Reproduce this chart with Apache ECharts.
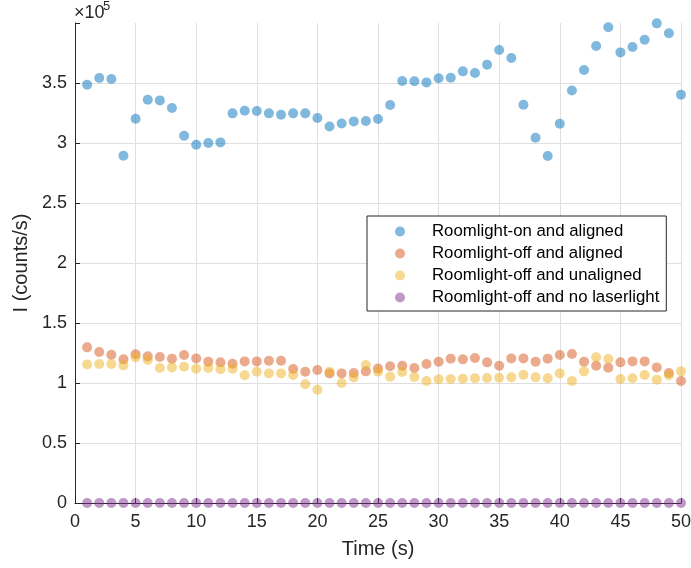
<!DOCTYPE html>
<html>
<head>
<meta charset="utf-8">
<title>Photodiode intensity over time</title>
<script src="https://cdn.jsdelivr.net/npm/echarts@6/dist/echarts.min.js"></script>
<style>
  html, body { margin: 0; padding: 0; background: #ffffff; }
  #chart { width: 691px; height: 568px; }
</style>
</head>
<body>
<div id="chart"></div>
<script>
// Sample times (s)
const time = [1, 2, 3, 4, 5, 6, 7, 8, 9, 10,
              11, 12, 13, 14, 15, 16, 17, 18, 19, 20,
              21, 22, 23, 24, 25, 26, 27, 28, 29, 30,
              31, 32, 33, 34, 35, 36, 37, 38, 39, 40,
              41, 42, 43, 44, 45, 46, 47, 48, 49, 50];

// Measured intensity (counts/s) for each condition
const roomOnAligned = [348600, 354200, 353300, 289400, 320200, 336100, 335500, 329200, 306100, 298600,
                       300000, 300500, 324700, 326900, 326700, 324700, 323600, 324700, 324700, 320800,
                       313800, 316300, 318000, 318300, 320000, 331700, 351700, 351400, 350500, 353900,
                       354400, 359700, 358300, 365300, 377500, 370800, 331900, 304400, 289200, 316100,
                       343800, 360800, 380800, 396400, 375500, 380000, 386100, 399700, 391400, 340300];

const roomOffAligned = [129700, 125800, 123600, 119700, 123900, 122200, 121700, 120300, 123300, 120500,
                        117800, 117200, 116100, 118000, 118000, 118600, 118600, 111700, 109400, 110800,
                        108000, 108000, 108300, 109700, 112000, 113900, 114400, 112500, 115800, 117800,
                        120300, 119700, 120800, 117200, 114400, 120500, 120500, 117800, 120300, 123300,
                        124200, 117800, 114400, 112800, 117200, 118000, 118000, 113000, 108300, 101700];

const roomOffUnaligned = [115500, 115800, 115800, 114700, 121400, 119200, 112500, 113000, 113600, 111900,
                          112500, 111400, 111900, 106400, 109400, 108000, 108000, 106700, 98900, 94400,
                          109400, 100000, 104700, 115000, 109500, 105300, 109200, 105000, 101700, 103100,
                          103300, 103600, 103900, 104200, 104400, 104700, 106900, 104700, 103900, 108000,
                          101700, 109700, 121400, 120000, 103300, 103900, 106700, 102800, 106400, 109700];

const roomOffNoLaser = [0, 0, 0, 0, 0, 0, 0, 0, 0, 0,
                        0, 0, 0, 0, 0, 0, 0, 0, 0, 0,
                        0, 0, 0, 0, 0, 0, 0, 0, 0, 0,
                        0, 0, 0, 0, 0, 0, 0, 0, 0, 0,
                        0, 0, 0, 0, 0, 0, 0, 0, 0, 0];

const seriesNames = [
  'Roomlight-on and aligned',
  'Roomlight-off and aligned',
  'Roomlight-off and unaligned',
  'Roomlight-off and no laserlight'
];

const xTicks = [0, 5, 10, 15, 20, 25, 30, 35, 40, 45, 50];
const yTicks = [0, 0.5, 1, 1.5, 2, 2.5, 3, 3.5];
const yScale = 1e5;

const seriesValues = [roomOnAligned, roomOffAligned, roomOffUnaligned, roomOffNoLaser];
const seriesColors = [
  'rgba(0,114,189,0.62)',
  'rgba(217,83,25,0.62)',
  'rgba(237,177,32,0.62)',
  'rgba(126,47,142,0.62)'
];

const FONT = '"Liberation Sans", Arial, Helvetica, sans-serif';
const INK = '#262626';
const GRID = '#dfdfdf';

const chart = echarts.init(document.getElementById('chart'), null, { renderer: 'canvas' });

const series = seriesValues.map((vals, i) => ({
  name: seriesNames[i],
  type: 'scatter',
  symbol: 'circle',
  symbolSize: 10,
  itemStyle: { color: seriesColors[i] },
  emphasis: { disabled: true },
  data: time.map((t, k) => [t, vals[k]])
}));

chart.setOption({
  animation: false,
  backgroundColor: '#ffffff',
  grid: { left: 75, right: 10, top: 23, bottom: 65, outerBoundsMode: 'none', containLabel: false },
  xAxis: {
    type: 'value',
    min: xTicks[0],
    max: xTicks[xTicks.length - 1],
    interval: xTicks[1] - xTicks[0],
    name: 'Time (s)',
    nameLocation: 'middle',
    nameGap: 36,
    nameTextStyle: { fontFamily: FONT, fontSize: 20, color: INK },
    axisLine: { show: true, lineStyle: { color: INK, width: 1 } },
    axisTick: { show: true, inside: true, length: 5, lineStyle: { color: INK } },
    axisLabel: { fontFamily: FONT, fontSize: 18, color: INK, margin: 10, hideOverlap: false },
    splitLine: { show: true, lineStyle: { color: GRID, width: 1 } }
  },
  yAxis: {
    type: 'value',
    min: yTicks[0] * yScale,
    max: 4 * yScale,
    interval: (yTicks[1] - yTicks[0]) * yScale,
    name: 'I (counts/s)',
    nameLocation: 'middle',
    nameGap: 44,
    nameTextStyle: { fontFamily: FONT, fontSize: 20, color: INK },
    axisLine: { show: true, lineStyle: { color: INK, width: 1 } },
    axisTick: { show: true, inside: true, length: 5, lineStyle: { color: INK } },
    axisLabel: {
      fontFamily: FONT, fontSize: 18, color: INK, margin: 8,
      formatter: v => {
        const s = v / yScale;
        return yTicks.some(t => Math.abs(t - s) < 1e-9) ? String(s) : '';
      }
    },
    splitLine: { show: true, showMaxLine: false, lineStyle: { color: GRID, width: 1 } }
  },
  legend: {
    orient: 'vertical',
    left: 367,
    top: 216,
    data: seriesNames,
    icon: 'circle',
    itemWidth: 10,
    itemHeight: 10,
    itemGap: 5,
    padding: [7, 7, 5, 28],
    borderColor: INK,
    borderWidth: 1,
    backgroundColor: '#ffffff',
    selectedMode: false,
    textStyle: { fontFamily: FONT, fontSize: 16.8, color: '#000000', padding: [0, 0, 0, 22] }
  },
  graphic: [
    {
      type: 'text',
      left: 74,
      top: 4,
      style: { text: '×10', fontFamily: FONT, fontSize: 18, fill: INK }
    },
    {
      type: 'text',
      left: 103,
      top: 0,
      style: { text: '5', fontFamily: FONT, fontSize: 13, fill: INK }
    }
  ],
  series: series
});
</script>
</body>
</html>
